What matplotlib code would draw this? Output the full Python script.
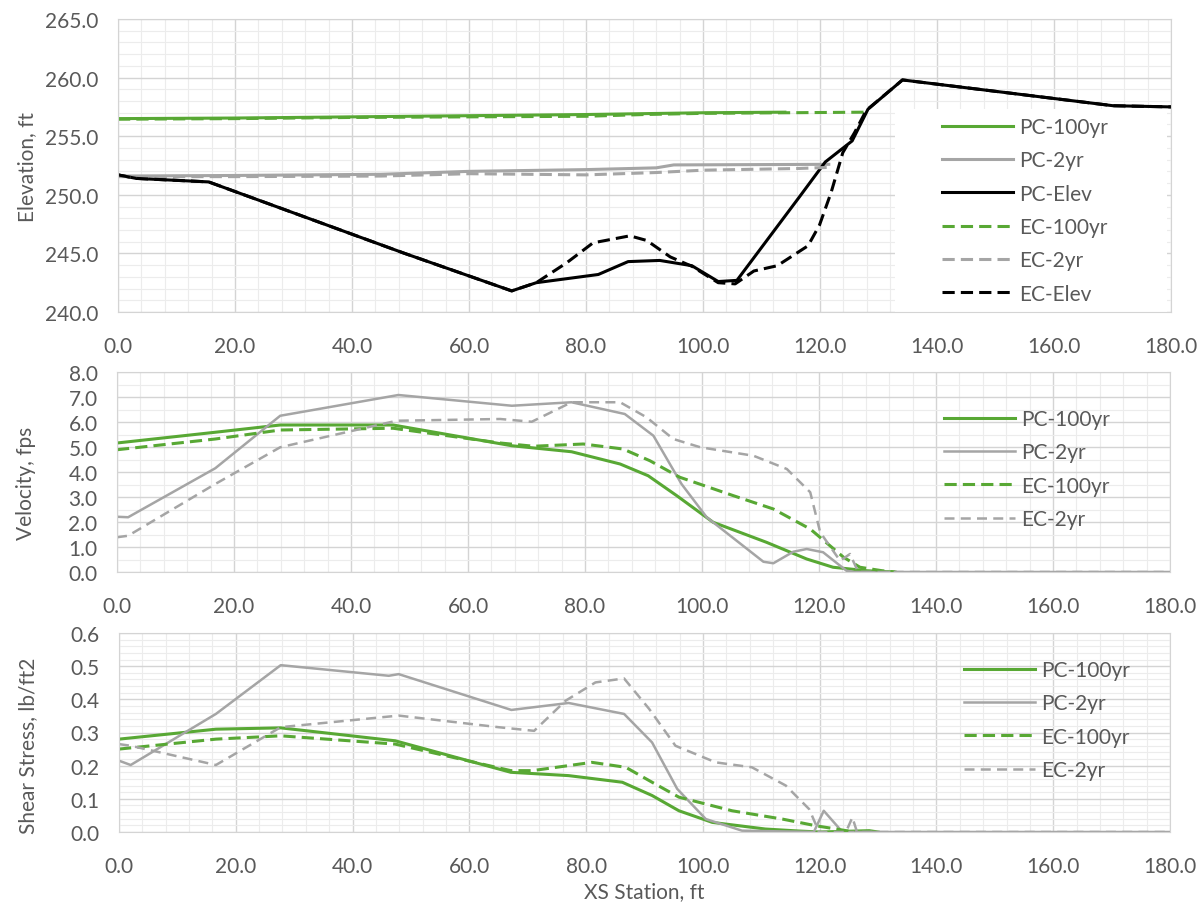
import matplotlib
matplotlib.use("Agg")
import matplotlib.pyplot as plt
from matplotlib.ticker import MultipleLocator, FormatStrFormatter
from matplotlib.patches import Rectangle

plt.rcParams['font.family'] = ['Lato', 'DejaVu Sans']

# ---- Elevation panel ----
pc_elev_x = [0, 3.1, 15.5, 49.0, 67.3, 71.5, 82.1, 87.2, 92.6, 98.1, 102.6, 105.8,
             116.6, 120.9, 125.5, 128.2, 134.1, 170.1, 180]
pc_elev_y = [251.7, 251.4, 251.1, 245.0, 241.8, 242.5, 243.2, 244.3, 244.4, 243.95, 242.6, 242.7,
             249.9, 252.8, 254.6, 257.3, 259.8, 257.6, 257.5]
ec_elev_x = [0, 3.1, 15.5, 49.0, 67.3, 71.5, 76.7, 81.2, 87.5, 90.4, 94.4, 98.1, 102.6, 105.5,
             108.7, 112.7, 117.95, 119.9, 121.9, 123.9, 125.9, 127.9, 134.1, 170.1, 180]
ec_elev_y = [251.7, 251.4, 251.1, 245.0, 241.8, 242.5, 244.2, 245.9, 246.5, 246.1, 244.7, 243.9, 242.5, 242.4,
             243.5, 243.95, 245.65, 247.4, 250.2, 253.6, 255.3, 257.2, 259.8, 257.6, 257.5]
pc100_x = [0, 20, 40, 60, 80, 100, 114]
pc100_y = [256.5, 256.55, 256.65, 256.75, 256.85, 257.0, 257.05]
ec100_x = [0, 20, 40, 60, 80, 90, 100, 128]
ec100_y = [256.45, 256.5, 256.6, 256.65, 256.7, 256.85, 256.95, 257.05]
pc2_x = [0, 20, 45, 60, 80, 92, 95, 121.5]
pc2_y = [251.6, 251.65, 251.75, 252.0, 252.15, 252.3, 252.55, 252.6]
ec2_x = [0, 20, 45, 60, 80, 92, 100, 116.6, 122]
ec2_y = [251.55, 251.55, 251.6, 251.8, 251.7, 251.9, 252.1, 252.25, 252.35]

# ---- Velocity panel ----
vel_pc100_x = [0, 16.8, 27.9, 47.2, 67.5, 77.7, 86.0, 90.8, 95.7, 101.9, 111.0, 117.9, 122.4, 128.2, 133]
vel_pc100_y = [5.16, 5.59, 5.88, 5.88, 5.05, 4.81, 4.32, 3.85, 3.05, 1.99, 1.19, 0.52, 0.19, 0.05, 0]
vel_pc2_x = [0, 1.9, 16.8, 27.9, 48.1, 67.5, 77.7, 86.8, 91.7, 96.5, 100.8, 110.5, 112.2, 115.6,
             117.9, 120.7, 124.7, 126, 180]
vel_pc2_y = [2.21, 2.19, 4.15, 6.25, 7.08, 6.65, 6.79, 6.32, 5.45, 3.52, 2.19, 0.41, 0.35, 0.81,
             0.92, 0.79, 0.05, 0, 0]
vel_ec100_x = [0, 16.8, 27.9, 47.2, 65.5, 71.2, 79.7, 86.5, 91.1, 96.2, 105.4, 112.2, 118.5, 124.2,
               127.0, 130.8, 133]
vel_ec100_y = [4.89, 5.32, 5.68, 5.75, 5.16, 5.03, 5.12, 4.92, 4.45, 3.79, 3.05, 2.52, 1.72, 0.59,
               0.19, 0.05, 0]
vel_ec2_x = [0, 1.9, 16.8, 27.9, 47.8, 65.5, 70.9, 77.7, 86.0, 90.5, 95.1, 99.7, 108.8, 114.5,
             118.5, 120.2, 123.6, 125.3, 126.7, 180]
vel_ec2_y = [1.39, 1.45, 3.52, 4.99, 6.05, 6.12, 6.01, 6.79, 6.79, 6.19, 5.32, 4.99, 4.65, 4.12,
             3.19, 1.59, 0.45, 0.72, 0.0, 0]

# ---- Shear stress panel ----
sh_pc100_x = [0, 16.6, 27.7, 47.3, 67.1, 77.0, 86.2, 91.3, 95.9, 101.6, 110.7, 116.4, 120, 128.5, 130]
sh_pc100_y = [0.28, 0.31, 0.314, 0.275, 0.18, 0.17, 0.15, 0.11, 0.064, 0.029, 0.009, 0.003, 0, 0.004, 0]
sh_pc2_x = [0, 2, 16.6, 27.7, 46.2, 47.9, 67.2, 77.0, 86.5, 91.3, 95.6, 100.5, 106.7, 119,
            120.7, 123.9, 180]
sh_pc2_y = [0.215, 0.202, 0.356, 0.503, 0.471, 0.476, 0.368, 0.389, 0.356, 0.27, 0.13, 0.039, 0.004, 0,
            0.064, 0, 0]
sh_ec100_x = [0, 16.6, 27.7, 47.3, 67.1, 70.8, 81.0, 86.8, 91.3, 95.9, 105.0, 113.6, 119.3, 124.9, 126]
sh_ec100_y = [0.25, 0.28, 0.29, 0.265, 0.185, 0.185, 0.21, 0.195, 0.15, 0.105, 0.064, 0.039, 0.019,
              0.003, 0]
sh_ec2_x = [0, 2, 16.6, 27.7, 47.9, 65, 71.1, 76.5, 81.6, 86.5, 90.8, 95.3, 102.2, 108.4, 114.2,
            118.2, 119.9, 124.5, 125.6, 126.4, 180]
sh_ec2_y = [0.265, 0.26, 0.202, 0.316, 0.351, 0.316, 0.305, 0.396, 0.451, 0.463, 0.371, 0.26, 0.21,
            0.195, 0.14, 0.069, 0, 0, 0.044, 0, 0]

GREEN = '#58a834'
GRAY = '#a5a5a5'
TXT = '#595959'
FS = 15

fig = plt.figure(figsize=(12.04, 9.03), dpi=100)
W, H = 1204, 903


def make_ax(left, top, right, bottom):
    return fig.add_axes([left / W, 1 - bottom / H, (right - left) / W, (bottom - top) / H])


def style(ax, ylo, yhi, ymaj, ymin, ylabel, ylab_y):
    ax.set_xlim(0, 180)
    ax.set_ylim(ylo, yhi)
    ax.xaxis.set_major_locator(MultipleLocator(20))
    ax.xaxis.set_minor_locator(MultipleLocator(4))
    ax.yaxis.set_major_locator(MultipleLocator(ymaj))
    ax.yaxis.set_minor_locator(MultipleLocator(ymin))
    ax.xaxis.set_major_formatter(FormatStrFormatter('%.1f'))
    ax.yaxis.set_major_formatter(FormatStrFormatter('%.1f'))
    ax.set_axisbelow(True)
    ax.grid(which='major', color='#d4d4d4', lw=1.0)
    ax.grid(which='minor', color='#ececec', lw=0.8)
    for s in ax.spines.values():
        s.set_color('#d4d4d4')
    ax.tick_params(which='both', length=0, labelsize=FS, labelcolor=TXT)
    ax.tick_params(axis='x', pad=17)
    ax.tick_params(axis='y', pad=14)
    ax.set_ylabel(ylabel, fontsize=FS, color=TXT)
    ax.yaxis.set_label_coords(-0.077, ylab_y)


def add_legend(ax, x_px, top_px):
    ax.legend(loc='upper left', bbox_to_anchor=(x_px / W, 1 - top_px / H),
              bbox_transform=fig.transFigure, frameon=False, fontsize=FS, labelcolor=TXT,
              handlelength=3.4, handletextpad=0.3, borderpad=0, borderaxespad=0,
              labelspacing=0.64)


# Elevation
ax1 = make_ax(118, 20, 1171, 313)
style(ax1, 240, 265, 5, 1, 'Elevation, ft', 0.5)
ax1.add_patch(Rectangle((0.738, 0.0), 0.258, 0.693, transform=ax1.transAxes,
                        facecolor='white', edgecolor='none', zorder=1))
ax1.plot(pc100_x, pc100_y, color=GREEN, lw=2.2, label='PC-100yr')
ax1.plot(pc2_x, pc2_y, color=GRAY, lw=2.2, label='PC-2yr')
ax1.plot(pc_elev_x, pc_elev_y, color='black', lw=2.2, label='PC-Elev')
ax1.plot(ec100_x, ec100_y, color=GREEN, lw=2.2, ls=(0, (4, 2)), label='EC-100yr')
ax1.plot(ec2_x, ec2_y, color=GRAY, lw=2.2, ls=(0, (4, 2)), label='EC-2yr')
ax1.plot(ec_elev_x, ec_elev_y, color='black', lw=2.2, ls=(0, (4, 2)), label='EC-Elev')
add_legend(ax1, 942, 118)

# Velocity
ax2 = make_ax(117, 373, 1170, 573)
style(ax2, 0, 8, 1, 0.5, 'Velocity, fps', 0.45)
ax2.plot(vel_pc100_x, vel_pc100_y, color=GREEN, lw=2.2, label='PC-100yr')
ax2.plot(vel_pc2_x, vel_pc2_y, color=GRAY, lw=1.8, label='PC-2yr')
ax2.plot(vel_ec100_x, vel_ec100_y, color=GREEN, lw=2.2, ls=(0, (4, 2)), label='EC-100yr')
ax2.plot(vel_ec2_x, vel_ec2_y, color=GRAY, lw=1.8, ls=(0, (4, 2.5)), label='EC-2yr')
add_legend(ax2, 944, 410)

# Shear stress
ax3 = make_ax(119, 634, 1170, 833)
style(ax3, 0, 0.6, 0.1, 0.02, 'Shear Stress, lb/ft2', 0.44)
ax3.plot(sh_pc100_x, sh_pc100_y, color=GREEN, lw=2.2, label='PC-100yr')
ax3.plot(sh_pc2_x, sh_pc2_y, color=GRAY, lw=1.8, label='PC-2yr')
ax3.plot(sh_ec100_x, sh_ec100_y, color=GREEN, lw=2.2, ls=(0, (4, 2)), label='EC-100yr')
ax3.plot(sh_ec2_x, sh_ec2_y, color=GRAY, lw=1.8, ls=(0, (4, 2.5)), label='EC-2yr')
add_legend(ax3, 964, 661)
ax3.set_xlabel('XS Station, ft', fontsize=FS, color=TXT, labelpad=4)

fig.savefig('out.png', dpi=100)
